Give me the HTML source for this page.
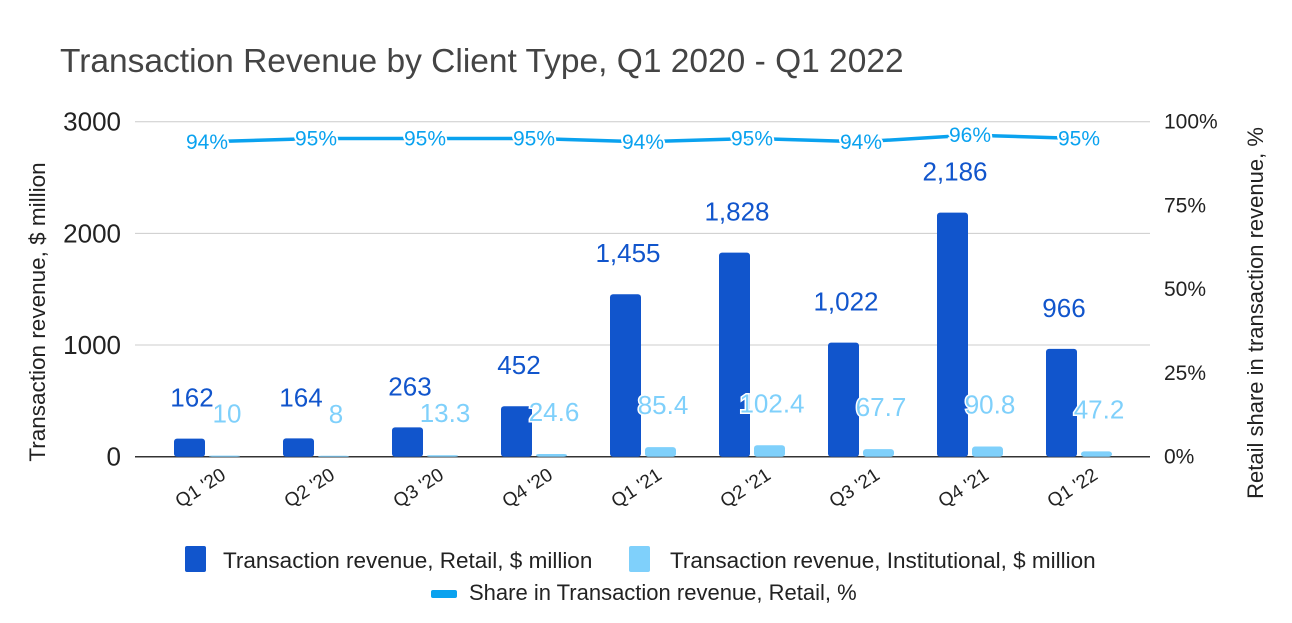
<!DOCTYPE html>
<html><head><meta charset="utf-8"><style>
html,body{margin:0;padding:0;background:#fff;}
svg{display:block;font-family:"Liberation Sans",Arial,sans-serif;}
</style></head><body>
<svg id="chart" width="1292" height="623" viewBox="0 0 1292 623">
<text x="60" y="72" font-size="33.5" fill="#444">Transaction Revenue by Client Type, Q1 2020 - Q1 2022</text>
<g id="grid"></g><g id="bars"></g><g id="line"></g><g id="labels"></g><g id="axes"></g>
<text transform="translate(45,312) rotate(-90)" text-anchor="middle" font-size="22.5" fill="#222">Transaction revenue, $ million</text>
<text transform="translate(1263,313) rotate(-90)" text-anchor="middle" font-size="22" fill="#222">Retail share in transaction revenue, %</text>
<g>
<rect x="185" y="546" width="21" height="26" rx="2" fill="#1155cc"/>
<text x="223" y="568" font-size="22.5" fill="#222">Transaction revenue, Retail, $ million</text>
<rect x="629" y="546" width="21" height="26" rx="2" fill="#7fd0fb"/>
<text x="670" y="568" font-size="22.5" fill="#222">Transaction revenue, Institutional, $ million</text>
<rect x="431" y="590" width="26" height="8" rx="2" fill="#0aa2ef"/>
<text x="469" y="600" font-size="22" fill="#222">Share in Transaction revenue, Retail, %</text>
</g>
</svg>
<script>
const categories=["Q1 '20","Q2 '20","Q3 '20","Q4 '20","Q1 '21","Q2 '21","Q3 '21","Q4 '21","Q1 '22"];
const retail=[162,164,263,452,1455,1828,1022,2186,966];
const retailLabels=["162","164","263","452","1,455","1,828","1,022","2,186","966"];
const institutional=[10,8,13.3,24.6,85.4,102.4,67.7,90.8,47.2];
const instLabels=["10","8","13.3","24.6","85.4","102.4","67.7","90.8","47.2"];
const share=[94,95,95,95,94,95,94,96,95];
const leftTicks=[0,1000,2000,3000];
const rightTicks=[0,25,50,75,100];

const NS="http://www.w3.org/2000/svg";
const yL=v=>456.7-v*(335/3000);
const yR=v=>456.7-v*3.35;
const xC=i=>207+i*109;
function mk(tag,attrs,parent,txt){const e=document.createElementNS(NS,tag);for(const k in attrs)e.setAttribute(k,attrs[k]);if(txt!==undefined)e.textContent=txt;document.getElementById(parent).appendChild(e);return e;}

leftTicks.forEach(t=>{
 const g=mk('line',{x1:135,x2:1150,y1:yL(t),y2:yL(t),stroke:t===0?'#333':'#ccc','stroke-width':t===0?1.5:1},'grid');
 
 
 const l=mk('text',{x:121,y:yL(t)+9,'text-anchor':'end','font-size':26,fill:'#222'},'axes',String(t));
 
 
});
rightTicks.forEach(t=>{
 const l=mk('text',{x:1164,y:yR(t)+7,'font-size':21,fill:'#222'},'axes',t+'%');
 
 
});
categories.forEach((c,i)=>{
 const cx=xC(i);
 const r=mk('rect',{x:cx-33,y:yL(retail[i]),width:31,height:yL(0)-yL(retail[i]),fill:'#1155cc',rx:3},'bars');
 
 
 const ins=mk('rect',{x:cx+2,y:yL(institutional[i]),width:31,height:Math.max(1,yL(0)-yL(institutional[i])),fill:'#7fd0fb',rx:3},'bars');
 
 
 const rl=mk('text',{x:cx-15,y:yL(retail[i])-32,'text-anchor':'middle','font-size':26,fill:'#1155cc'},'labels',retailLabels[i]);
 
 
 const il=mk('text',{x:cx+20,y:yL(institutional[i])-33,'text-anchor':'middle','font-size':26,fill:'#7fd0fb',stroke:'#fff','stroke-width':3,'paint-order':'stroke'},'labels',instLabels[i]);
 
 
 const pl=mk('text',{x:cx,y:yR(share[i])+7,'text-anchor':'middle','font-size':21,fill:'#0aa2ef',stroke:'#fff','stroke-width':4,'paint-order':'stroke'},'labels',share[i]+'%');
 
 
 const xl=mk('text',{x:cx+20,y:478,'text-anchor':'end','font-size':19,fill:'#222',transform:`rotate(-33 ${cx+20} 478)`},'axes',c);
 
 
});
const pts=share.map((v,i)=>xC(i)+','+yR(v)).join(' ');
const pl=mk('polyline',{points:pts,fill:'none',stroke:'#0aa2ef','stroke-width':3.5,'stroke-linejoin':'round'},'line');


</script>
</body></html>
